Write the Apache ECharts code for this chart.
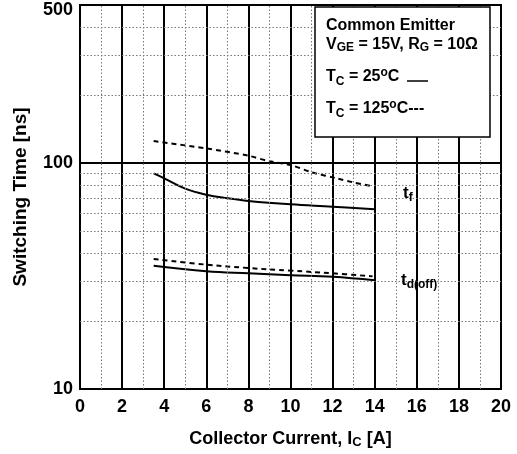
<!DOCTYPE html>
<html>
<head>
<meta charset="utf-8">
<script src="https://cdn.jsdelivr.net/npm/echarts@6/dist/echarts.min.js"></script>
<style>html,body{margin:0;padding:0;background:#fff}#c{width:517px;height:454px}</style>
</head>
<body>
<div id="c"></div>
<script>
// Data
var tfX25 = [3.5, 4, 5, 6, 7, 8, 10, 12, 14];
var tfY25 = [90, 85.5, 77, 72.4, 69.8, 67.9, 65.6, 64.1, 62.4];
var tfX125 = [3.5, 6, 8, 9, 10, 11, 12.2, 13, 13.9];
var tfY125 = [125, 116, 107.7, 101.7, 98, 91, 85.5, 82, 78.9];
var tdX25 = [3.5, 6, 8, 10, 12, 14];
var tdY25 = [35.1, 33.2, 32.5, 31.9, 31.4, 30.3];
var tdX125 = [3.5, 6, 8, 10, 12, 13.9];
var tdY125 = [37.6, 35.5, 34.3, 33.4, 32.5, 31.5];
var yTickLabels = [10, 100, 500];
var yMinorGrid = [20, 30, 40, 50, 60, 70, 80, 90, 200, 300, 400];
var xMinorGrid = [1, 3, 5, 7, 9, 11, 13, 15, 17, 19];

function pairs(xs, ys) { return xs.map(function (x, i) { return [x, ys[i]]; }); }

var chart = echarts.init(document.getElementById('c'));
var FONT = '"Liberation Sans", Arial, sans-serif';
var solid = { color: '#000', width: 2, type: 'solid' };
var dashed = { color: '#000', width: 2, type: [5, 4] };
var dotted = { color: '#777', width: 1, type: [1.5, 2] };

var markGrid = {
  silent: true, symbol: 'none', label: { show: false }, animation: false,
  lineStyle: dotted,
  emphasis: { disabled: true },
  data: yMinorGrid.map(function (v) { return { yAxis: v }; })
    .concat(xMinorGrid.map(function (v) { return { xAxis: v }; }))
};

chart.setOption({
  animation: false,
  backgroundColor: '#fff',
  grid: { left: 80, right: 16, top: 5, bottom: 64, show: true, borderColor: '#000', borderWidth: 2, containLabel: false },
  xAxis: {
    type: 'value', min: 0, max: 20, interval: 2,
    name: 'Collector Current, I{s|C} [A]',
    nameLocation: 'middle', nameGap: 40,
    nameTextStyle: { fontFamily: FONT, fontWeight: 'bold', fontSize: 18, color: '#000',
      rich: { s: { fontFamily: FONT, fontWeight: 'bold', fontSize: 13, color: '#000', padding: [7, 0, 0, 0] } } },
    axisLine: { show: false },
    axisTick: { show: false },
    axisLabel: { fontFamily: FONT, fontWeight: 'bold', fontSize: 18, color: '#000', margin: 9 },
    splitLine: { show: true, lineStyle: { color: '#000', width: 2 } }
  },
  yAxis: {
    type: 'log', logBase: 10, min: 10, max: 500,
    name: 'Switching Time [ns]',
    nameLocation: 'middle', nameGap: 50,
    nameTextStyle: { fontFamily: FONT, fontWeight: 'bold', fontSize: 19, color: '#000' },
    axisLine: { show: false },
    axisTick: { show: false },
    axisLabel: {
      fontFamily: FONT, fontWeight: 'bold', fontSize: 18, color: '#000', margin: 7,
      customValues: yTickLabels,
      formatter: function (v) { return v >= 500 ? '{t|' + v + '}' : String(v); },
      rich: { t: { fontFamily: FONT, fontWeight: 'bold', fontSize: 18, color: '#000', padding: [10, 0, 0, 0] } }
    },
    splitLine: { show: true, lineStyle: { color: '#000', width: 2 } }
  },
  series: [
    { type: 'line', data: pairs(tfX25, tfY25), smooth: 0.4, showSymbol: false, lineStyle: solid, z: 3, markLine: markGrid },
    { type: 'line', data: pairs(tfX125, tfY125), smooth: 0.3, showSymbol: false, lineStyle: dashed, z: 3 },
    { type: 'line', data: pairs(tdX25, tdY25), smooth: 0.4, showSymbol: false, lineStyle: solid, z: 3 },
    { type: 'line', data: pairs(tdX125, tdY125), smooth: 0.4, showSymbol: false, lineStyle: dashed, z: 3 }
  ],
  graphic: [
    { type: 'rect', z: 100, shape: { x: 315, y: 7, width: 175, height: 130 },
      style: { fill: '#fff', stroke: '#000', lineWidth: 1.5 } },
    { type: 'text', z: 101, left: 326, top: 18,
      style: { text: 'Common Emitter', font: 'bold 16px ' + FONT, fill: '#000' } },
    { type: 'text', z: 101, left: 326, top: 37,
      style: { text: 'V{s|GE} = 15V, R{s|G} = 10Ω', font: 'bold 16px ' + FONT, fill: '#000',
        rich: { s: { font: 'bold 12px ' + FONT, fill: '#000', padding: [6, 0, 0, 0] } } } },
    { type: 'text', z: 101, left: 326, top: 67,
      style: { text: 'T{s|C} = 25{p|o}C', font: 'bold 16px ' + FONT, fill: '#000',
        rich: { s: { font: 'bold 12px ' + FONT, fill: '#000', padding: [9, 0, 0, 0] },
                p: { font: 'bold 12px ' + FONT, fill: '#000', padding: [0, 0, 8, 0] } } } },
    { type: 'line', z: 101, shape: { x1: 407, y1: 81, x2: 428, y2: 81 }, style: { stroke: '#000', lineWidth: 1.5 } },
    { type: 'text', z: 101, left: 326, top: 99,
      style: { text: 'T{s|C} = 125{p|o}C---', font: 'bold 16px ' + FONT, fill: '#000',
        rich: { s: { font: 'bold 12px ' + FONT, fill: '#000', padding: [9, 0, 0, 0] },
                p: { font: 'bold 12px ' + FONT, fill: '#000', padding: [0, 0, 8, 0] } } } },
    { type: 'text', z: 101, left: 403, top: 185,
      style: { text: 't{s|f}', font: 'bold 17px ' + FONT, fill: '#000',
        rich: { s: { font: 'bold 12px ' + FONT, fill: '#000', padding: [8, 0, 0, 0] } } } },
    { type: 'text', z: 101, left: 401, top: 272,
      style: { text: 't{s|d(off)}', font: 'bold 17px ' + FONT, fill: '#000',
        rich: { s: { font: 'bold 12px ' + FONT, fill: '#000', padding: [8, 0, 0, 0] } } } }
  ]
});
</script>
</body>
</html>
